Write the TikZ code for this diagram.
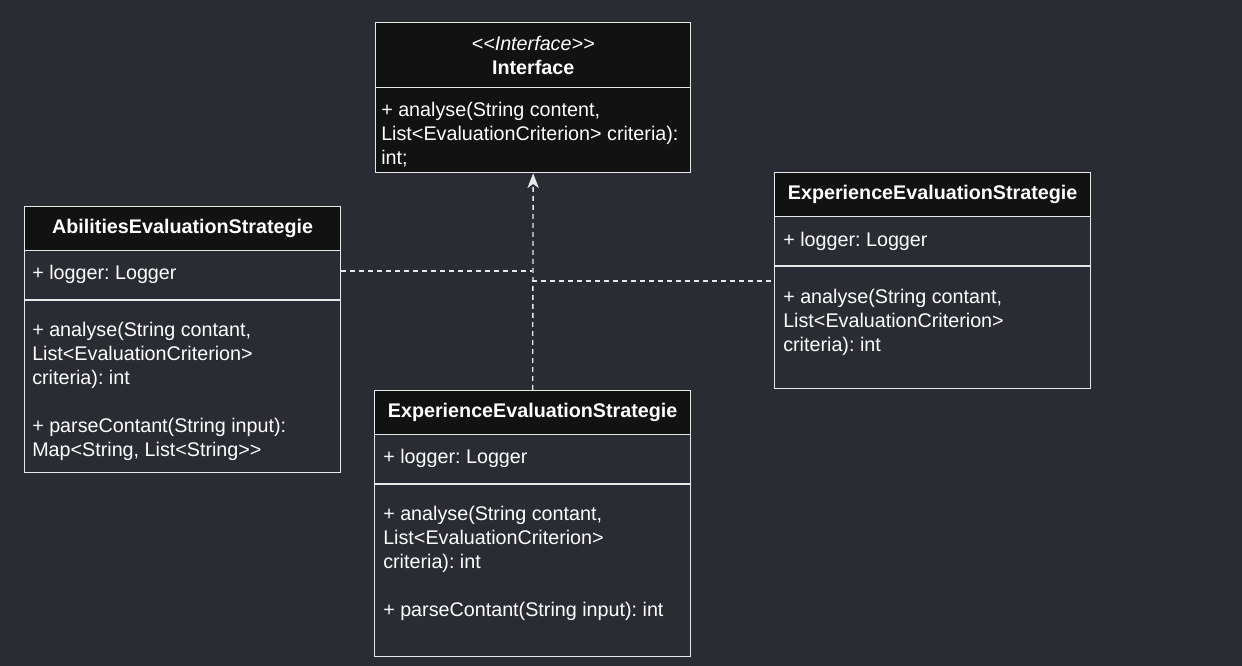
\documentclass[tikz,border=0pt]{standalone}
\usepackage{fontspec}
\setmainfont{Liberation Sans}[Ligatures=TeXOff]
\usetikzlibrary{arrows.meta}

\definecolor{umlbg}{RGB}{42,44,52}
\definecolor{umlhead}{RGB}{18,18,18}
\definecolor{umlline}{RGB}{232,232,232}
\newcommand{\umlfont}{\frenchspacing\fontsize{14.8}{18}\selectfont}

\tikzset{
  clsbox/.style={draw=umlline, line width=1pt, fill=umlbg, anchor=north west, inner sep=0pt, minimum width=237pt},
  clshead/.style={clsbox, fill=umlhead, text=white, font=\umlfont\bfseries, minimum height=33pt},
  clstext/.style={anchor=north west, inner sep=0pt, align=left, text=white, font=\umlfont},
  clssep/.style={draw=umlline, line width=1pt},
  impl/.style={draw=umlline, line width=1pt, dash pattern=on 3.75pt off 3pt}
}

\begin{document}
\begin{tikzpicture}[x=0.75pt,y=0.75pt,yscale=-1,xscale=1]
\useasboundingbox (0,0) rectangle (1242,666);
\fill[umlbg] (0,0) rectangle (1242,666);

%Shape: Class [id:iface]
\node[clsbox, fill=umlhead, minimum width=236.25pt, minimum height=112.5pt] (iface) at (375,22) {};
\node[clshead, minimum width=236.25pt, minimum height=48.75pt, align=center] (ifaceHead) at (375,22) {{\mdseries\itshape <<Interface>>}\\Interface};
% Text Node
\node[clstext] (ifaceOps) at (381,102) {+ analyse(String content,\\List<EvaluationCriterion> criteria):\\int;};

%Shape: Class [id:abil]
\node[clsbox, minimum height=199.5pt] (abil) at (24,206) {};
\node[clshead] (abilHead) at (24,206) {AbilitiesEvaluationStrategie};
\draw[clssep] (24,300) -- (340,300);
% Text Node
\node[clstext] (abilAttr) at (32,265) {+ logger: Logger};
% Text Node
\node[clstext] (abilOps) at (32,322) {+ analyse(String contant,\\List<EvaluationCriterion>\\criteria): int\\[18pt]+ parseContant(String input):\\Map<String, List<String>>};

%Shape: Class [id:expR]
\node[clsbox, minimum height=162pt] (expR) at (774,172) {};
\node[clshead] (expRHead) at (774,172) {ExperienceEvaluationStrategie};
\draw[clssep] (774,266) -- (1090,266);
% Text Node
\node[clstext] (expRAttr) at (783,232) {+ logger: Logger};
% Text Node
\node[clstext] (expROps) at (783,289) {+ analyse(String contant,\\List<EvaluationCriterion>\\criteria): int};

%Shape: Class [id:expB]
\node[clsbox, minimum height=199.5pt] (expB) at (374,390) {};
\node[clshead] (expBHead) at (374,390) {ExperienceEvaluationStrategie};
\draw[clssep] (374,484) -- (690,484);
% Text Node
\node[clstext] (expBAttr) at (383,449) {+ logger: Logger};
% Text Node
\node[clstext] (expBOps) at (383,506) {+ analyse(String contant,\\List<EvaluationCriterion>\\criteria): int\\[18pt]+ parseContant(String input): int};

%Straight Lines [realization]
\coordinate (jl) at (532,271);
\coordinate (jr) at (532,281);
\draw[impl] (abil.east |- jl) -- (jl);
\draw[impl] (jr) -- (expR.west |- jr);
\draw[impl, -{Stealth[length=11pt,width=8.5pt,inset=3pt,fill=umlline]}] (expB.north) -- (iface.south);

\end{tikzpicture}
\end{document}
